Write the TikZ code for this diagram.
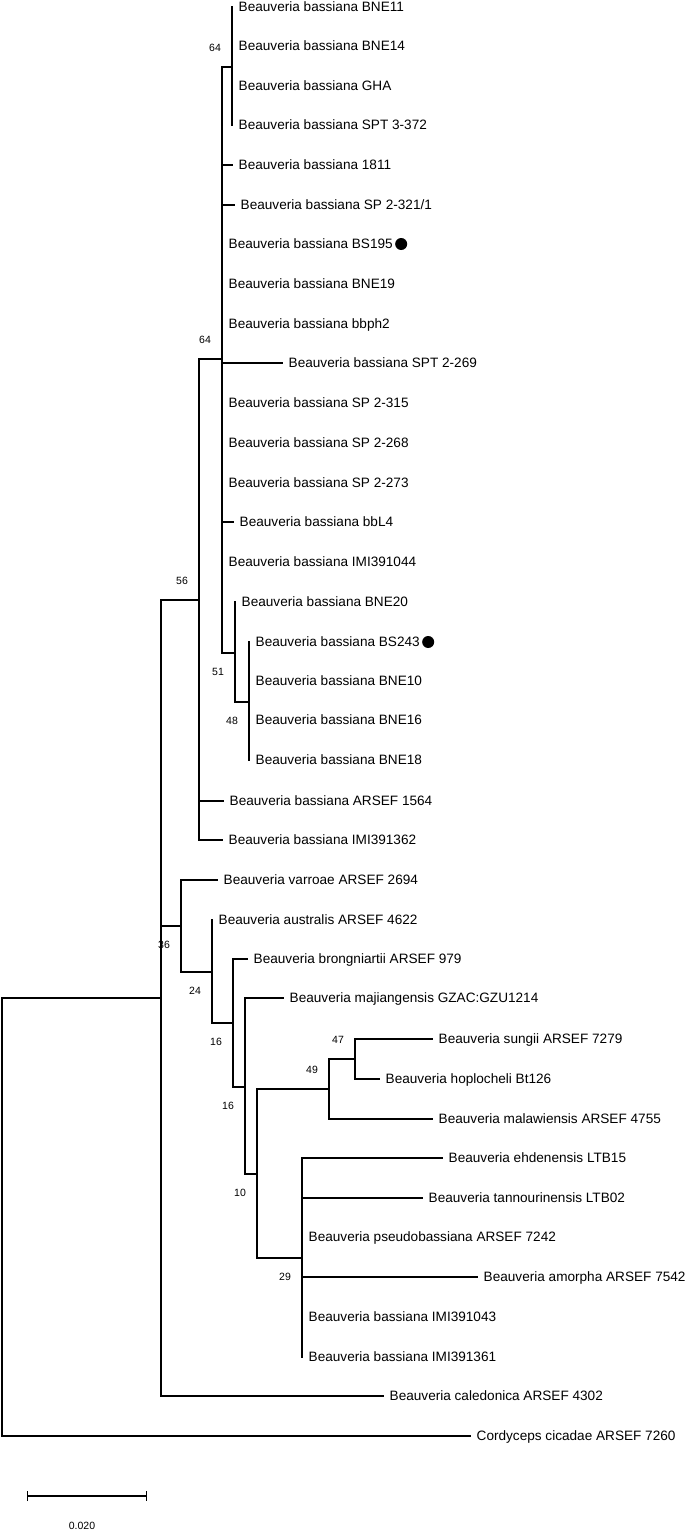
\documentclass[tikz,border=0pt]{standalone}
\usepackage{fontspec}
\setmainfont{Liberation Sans}
\usetikzlibrary{positioning,arrows.meta}

\begin{document}
\begin{tikzpicture}[
    x = 1pt, y = -1pt,
    taxon/.style = {anchor=west, inner xsep=6.5pt, inner ysep=0pt, text height=12.6pt, text depth=3pt, font=\fontsize{13.6}{16}\selectfont},
    boot/.style = {inner sep=0pt, font=\fontsize{10.5}{12}\selectfont},
    bsup/.style = {boot, xshift=-17pt, yshift=19pt},
    bsdn/.style = {boot, xshift=-17pt, yshift=-19pt},
    marker/.style = {circle, fill, inner sep=0pt, minimum size=12pt},
    branch/.style = {line width=1.3pt, line cap=rect}
]
\useasboundingbox (0,0) rectangle (685,1531);

\coordinate (nR) at (2,1217);
\coordinate (nB) at (161,998);
\coordinate (n56) at (199,600);
\coordinate (n64b) at (222,359);
\coordinate (n64a) at (232,67);
\coordinate (n51) at (235,653);
\coordinate (n48) at (249,702);
\coordinate (n36) at (181,926);
\coordinate (n24) at (212,972);
\coordinate (n16a) at (233,1023);
\coordinate (n16b) at (245,1087);
\coordinate (n10) at (257,1174);
\coordinate (n49) at (329,1089);
\coordinate (n47) at (355,1059);
\coordinate (n29) at (302,1258);

\node (l1) [taxon] at (232,7) {Beauveria bassiana BNE11};
\node (l2) [taxon] at (232,46) {Beauveria bassiana BNE14};
\node (l3) [taxon] at (232,86) {Beauveria bassiana GHA};
\node (l4) [taxon] at (232,125) {Beauveria bassiana SPT 3-372};
\node (l5) [taxon] at (232,165) {Beauveria bassiana 1811};
\node (l6) [taxon] at (234,205) {Beauveria bassiana SP 2-321/1};
\node (l7) [taxon] at (222,244) {Beauveria bassiana BS195};
\node (l8) [taxon] at (222,284) {Beauveria bassiana BNE19};
\node (l9) [taxon] at (222,324) {Beauveria bassiana bbph2};
\node (l10) [taxon] at (282,363) {Beauveria bassiana SPT 2-269};
\node (l11) [taxon] at (222,403) {Beauveria bassiana SP 2-315};
\node (l12) [taxon] at (222,443) {Beauveria bassiana SP 2-268};
\node (l13) [taxon] at (222,483) {Beauveria bassiana SP 2-273};
\node (l14) [taxon] at (233,522) {Beauveria bassiana bbL4};
\node (l15) [taxon] at (222,562) {Beauveria bassiana IMI391044};
\node (l16) [taxon] at (235,602) {Beauveria bassiana BNE20};
\node (l17) [taxon] at (249,642) {Beauveria bassiana BS243};
\node (l18) [taxon] at (249,681) {Beauveria bassiana BNE10};
\node (l19) [taxon] at (249,720) {Beauveria bassiana BNE16};
\node (l20) [taxon] at (249,760) {Beauveria bassiana BNE18};
\node (l21) [taxon] at (223,801) {Beauveria bassiana ARSEF 1564};
\node (l22) [taxon] at (222,840) {Beauveria bassiana IMI391362};
\node (l23) [taxon] at (217,880) {Beauveria varroae ARSEF 2694};
\node (l24) [taxon] at (212,920) {Beauveria australis ARSEF 4622};
\node (l25) [taxon] at (247,959) {Beauveria brongniartii ARSEF 979};
\node (l26) [taxon] at (283,998) {Beauveria majiangensis GZAC:GZU1214};
\node (l27) [taxon] at (432,1039) {Beauveria sungii ARSEF 7279};
\node (l28) [taxon] at (379,1079) {Beauveria hoplocheli Bt126};
\node (l29) [taxon] at (432,1119) {Beauveria malawiensis ARSEF 4755};
\node (l30) [taxon] at (442,1158) {Beauveria ehdenensis LTB15};
\node (l31) [taxon] at (422,1198) {Beauveria tannourinensis LTB02};
\node (l32) [taxon] at (302,1237) {Beauveria pseudobassiana ARSEF 7242};
\node (l33) [taxon] at (477,1277) {Beauveria amorpha ARSEF 7542};
\node (l34) [taxon] at (302,1317) {Beauveria bassiana IMI391043};
\node (l35) [taxon] at (302,1357) {Beauveria bassiana IMI391361};
\node (l36) [taxon] at (383,1396) {Beauveria caledonica ARSEF 4302};
\node (l37) [taxon] at (470,1436) {Cordyceps cicadae ARSEF 7260};

\node (d1) [marker, right=-4.5pt of l7] {};
\node (d2) [marker, right=-4.5pt of l17] {};

\node (b1) [bsup] at (n64a) {64};
\node (b2) [bsup] at (n64b) {64};
\node (b3) [bsup] at (n56) {56};
\node (b4) [bsdn] at (n51) {51};
\node (b5) [bsdn] at (n48) {48};
\node (b6) [bsdn] at (n36) {36};
\node (b7) [bsdn] at (n24) {24};
\node (b8) [bsdn] at (n16a) {16};
\node (b9) [bsdn] at (n16b) {16};
\node (b10) [bsdn] at (n10) {10};
\node (b11) [bsup] at (n49) {49};
\node (b12) [bsup] at (n47) {47};
\node (b13) [bsdn] at (n29) {29};

\draw[branch] (nR) |- (nB);
\draw[branch] (nR) |- (l37.west);
\draw[branch] (nB) |- (n56);
\draw[branch] (nB) |- (n36);
\draw[branch] (nB) |- (l36.west);
\draw[branch] (n56) |- (n64b);
\draw[branch] (n56) |- (l21.west);
\draw[branch] (n56) |- (l22.west);
\draw[branch] (n64b) |- (n64a);
\draw[branch] (n64a) |- (l1.west);
\draw[branch] (n64a) |- (l2.west);
\draw[branch] (n64a) |- (l3.west);
\draw[branch] (n64a) |- (l4.west);
\draw[branch] (n64b) |- (l5.west);
\draw[branch] (n64b) |- (l6.west);
\draw[branch] (n64b) |- (l7.west);
\draw[branch] (n64b) |- (l8.west);
\draw[branch] (n64b) |- (l9.west);
\draw[branch] (n64b) |- (l10.west);
\draw[branch] (n64b) |- (l11.west);
\draw[branch] (n64b) |- (l12.west);
\draw[branch] (n64b) |- (l13.west);
\draw[branch] (n64b) |- (l14.west);
\draw[branch] (n64b) |- (l15.west);
\draw[branch] (n64b) |- (n51);
\draw[branch] (n51) |- (l16.west);
\draw[branch] (n51) |- (n48);
\draw[branch] (n48) |- (l17.west);
\draw[branch] (n48) |- (l18.west);
\draw[branch] (n48) |- (l19.west);
\draw[branch] (n48) |- (l20.west);
\draw[branch] (n36) |- (l23.west);
\draw[branch] (n36) |- (n24);
\draw[branch] (n24) |- (l24.west);
\draw[branch] (n24) |- (n16a);
\draw[branch] (n16a) |- (l25.west);
\draw[branch] (n16a) |- (n16b);
\draw[branch] (n16b) |- (l26.west);
\draw[branch] (n16b) |- (n10);
\draw[branch] (n10) |- (n49);
\draw[branch] (n10) |- (n29);
\draw[branch] (n49) |- (n47);
\draw[branch] (n49) |- (l29.west);
\draw[branch] (n47) |- (l27.west);
\draw[branch] (n47) |- (l28.west);
\draw[branch] (n29) |- (l30.west);
\draw[branch] (n29) |- (l31.west);
\draw[branch] (n29) |- (l32.west);
\draw[branch] (n29) |- (l33.west);
\draw[branch] (n29) |- (l34.west);
\draw[branch] (n29) |- (l35.west);

\coordinate (sbL) at (27,1496);
\coordinate (sbR) at (147,1496);
\draw[branch, {Bar[width=10pt]}-{Bar[width=10pt]}] (sbL) -- (sbR);
\node (sb) [boot] at (82,1526) {0.020};
\end{tikzpicture}
\end{document}
